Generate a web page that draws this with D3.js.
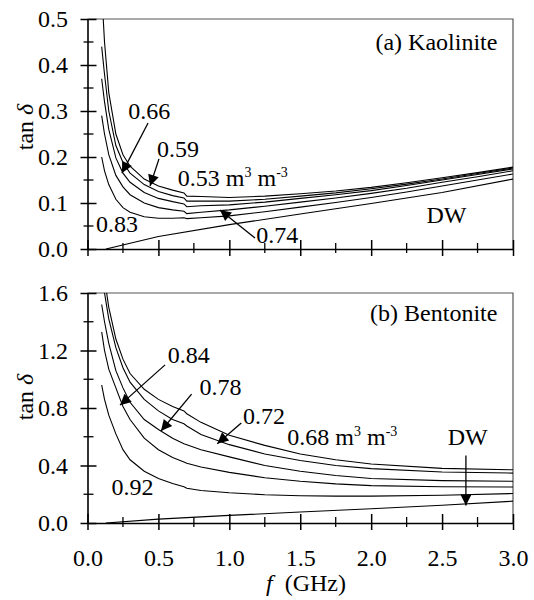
<!DOCTYPE html>
<html>
<head>
<meta charset="utf-8">
<script src="https://cdn.jsdelivr.net/npm/d3@7"></script>
<style>
  html, body { margin: 0; padding: 0; background: #fff; }
  svg { display: block; font-family: "Liberation Serif", "DejaVu Serif", serif; }
</style>
</head>
<body>
<svg id="chart" width="534" height="600"></svg>
<script>
// ---------------- DATA ----------------
const xTicks = [0.0, 0.5, 1.0, 1.5, 2.0, 2.5, 3.0];
const xTickLabels = ["0.0", "0.5", "1.0", "1.5", "2.0", "2.5", "3.0"];
const kaoTicks = [0.0, 0.1, 0.2, 0.3, 0.4, 0.5];
const kaoTickLabels = ["0.0", "0.1", "0.2", "0.3", "0.4", "0.5"];
const benTicks = [0.0, 0.4, 0.8, 1.2, 1.6];
const benTickLabels = ["0.0", "0.4", "0.8", "1.2", "1.6"];

// (a) Kaolinite — frequency (GHz) and tan delta per water content
const freqKao = [0.1, 0.12, 0.15, 0.2, 0.25, 0.3, 0.4, 0.5, 0.6, 0.68, 0.7, 0.8, 1.0, 1.25, 1.5, 1.75, 2.0, 2.25, 2.5, 2.75, 3.0];
const kao053 = [0.56, 0.45, 0.34, 0.25, 0.205, 0.18, 0.152, 0.137, 0.128, 0.122, 0.115, 0.114, 0.112, 0.115, 0.120, 0.126, 0.134, 0.144, 0.155, 0.166, 0.178];
const kao059 = [0.44, 0.38, 0.30, 0.225, 0.188, 0.165, 0.140, 0.125, 0.116, 0.111, 0.104, 0.104, 0.104, 0.108, 0.115, 0.122, 0.131, 0.141, 0.152, 0.164, 0.176];
const kao066 = [0.37, 0.32, 0.26, 0.198, 0.165, 0.145, 0.123, 0.110, 0.103, 0.098, 0.092, 0.094, 0.096, 0.102, 0.110, 0.118, 0.127, 0.138, 0.150, 0.162, 0.174];
const kao074 = [0.29, 0.25, 0.205, 0.160, 0.135, 0.118, 0.100, 0.090, 0.085, 0.082, 0.077, 0.080, 0.085, 0.093, 0.102, 0.111, 0.121, 0.132, 0.145, 0.157, 0.170];
const kao083 = [0.20, 0.17, 0.14, 0.108, 0.090, 0.080, 0.070, 0.067, 0.067, 0.068, 0.066, 0.068, 0.072, 0.081, 0.091, 0.101, 0.112, 0.124, 0.137, 0.150, 0.163];

// (b) Bentonite
const freqBen = [0.1, 0.12, 0.15, 0.2, 0.25, 0.3, 0.4, 0.5, 0.6, 0.68, 0.7, 0.8, 1.0, 1.25, 1.5, 1.75, 2.0, 2.5, 3.0];
const ben068 = [1.95, 1.70, 1.50, 1.28, 1.14, 1.04, 0.93, 0.86, 0.81, 0.78, 0.76, 0.70, 0.61, 0.54, 0.48, 0.44, 0.41, 0.38, 0.37];
const ben072 = [1.75, 1.60, 1.42, 1.22, 1.08, 0.98, 0.86, 0.78, 0.72, 0.69, 0.675, 0.615, 0.545, 0.48, 0.435, 0.40, 0.378, 0.355, 0.347];
const ben078 = [1.52, 1.40, 1.25, 1.06, 0.94, 0.84, 0.72, 0.65, 0.59, 0.552, 0.545, 0.51, 0.46, 0.40, 0.36, 0.33, 0.31, 0.295, 0.29];
const ben084 = [1.33, 1.20, 1.07, 0.94, 0.81, 0.72, 0.59, 0.51, 0.455, 0.425, 0.415, 0.39, 0.352, 0.315, 0.29, 0.272, 0.26, 0.252, 0.25];
const ben092 = [0.96, 0.86, 0.75, 0.62, 0.51, 0.44, 0.36, 0.31, 0.275, 0.252, 0.242, 0.226, 0.21, 0.197, 0.19, 0.187, 0.187, 0.193, 0.205];

// Distilled water (DW)
const freqDW = [0.13, 0.5, 1.0, 1.5, 2.0, 2.5, 3.0];
const dwTan = [0.0, 0.027, 0.053, 0.076, 0.099, 0.123, 0.152];

// Annotation texts and anchor positions (data units: GHz, tan delta)
const kaoLabels = [
  { t: "0.66", f: 0.288, v: 0.283 },
  { t: "0.59", f: 0.49, v: 0.20 },
  { t: "0.53", f: 0.637, v: 0.1375, unit: true },
  { t: "0.83", f: 0.06, v: 0.036 },
  { t: "0.74", f: 1.19, v: 0.012 },
  { t: "DW", f: 2.39, v: 0.0575 }
];
const kaoArrows = [
  { f0: 0.427, v0: 0.274, f1: 0.243, v1: 0.165 },
  { f0: 0.504, v0: 0.196, f1: 0.441, v1: 0.137 },
  { f0: 1.181, v0: 0.024, f1: 0.934, v1: 0.085 }
];
const benLabels = [
  { t: "0.84", f: 0.566, v: 1.111 },
  { t: "0.78", f: 0.79, v: 0.89 },
  { t: "0.72", f: 1.096, v: 0.687 },
  { t: "0.68", f: 1.409, v: 0.54, unit: true },
  { t: "0.92", f: 0.169, v: 0.198 },
  { t: "DW", f: 2.54, v: 0.54 }
];
const benArrows = [
  { f0: 0.547, v0: 1.10, f1: 0.229, v1: 0.82 },
  { f0: 0.734, v0: 0.897, f1: 0.518, v1: 0.64 },
  { f0: 1.084, v0: 0.696, f1: 0.915, v1: 0.552 },
  { f0: 2.668, v0: 0.47, f1: 2.668, v1: 0.121 }
];

// ---------------- DRAW ----------------
const svg = d3.select("#chart");
const left = 87.5, right = 513;
const FONT = 24;
const FAMILY = "Liberation Serif, DejaVu Serif, serif";

svg.append("defs").append("marker")
  .attr("id", "ah").attr("viewBox", "0 0 10 10")
  .attr("refX", 10).attr("refY", 5)
  .attr("markerUnits", "userSpaceOnUse")
  .attr("markerWidth", 14).attr("markerHeight", 11)
  .attr("orient", "auto")
  .append("path").attr("d", "M0,0 L10,5 L0,10 Z").attr("fill", "#000");

const x = d3.scaleLinear().domain([0, 3]).range([left, right]);

function panel(cfg) {
  const y = d3.scaleLinear().domain([0, cfg.ymax]).range([cfg.bottom, cfg.top]);
  const g = svg.append("g").attr("font-family", FAMILY);
  const clipId = "clip" + cfg.id;
  svg.select("defs").append("clipPath").attr("id", clipId)
    .append("rect").attr("x", left).attr("y", cfg.top)
    .attr("width", right - left).attr("height", cfg.bottom - cfg.top);

  // frame (top & right)
  g.append("path")
    .attr("d", `M${left},${cfg.top} H${right} V${cfg.bottom}`)
    .attr("fill", "none").attr("stroke", "#555").attr("stroke-width", 1.2);

  // curves
  const line = d3.line().x(d => x(d[0])).y(d => y(d[1]));
  const cg = g.append("g").attr("clip-path", `url(#${clipId})`);
  cfg.series.forEach(s => {
    cg.append("path")
      .datum(s.f.map((f, i) => [f, s.v[i]]))
      .attr("d", line).attr("fill", "none")
      .attr("stroke", "#000").attr("stroke-width", 1.1);
  });

  // minor ticks
  const yMinor = d3.range(0, cfg.ymax + 1e-9, cfg.ystep / 2).filter((v, i) => i % 2 === 1);
  const xMinor = d3.range(0, 3 + 1e-9, 0.25).filter((v, i) => i % 2 === 1);
  const tk = g.append("g").attr("stroke", "#000").attr("stroke-width", 1.3);
  xMinor.forEach(v => tk.append("line").attr("x1", x(v)).attr("x2", x(v))
    .attr("y1", cfg.bottom + 4).attr("y2", cfg.bottom - 6));
  yMinor.forEach(v => tk.append("line").attr("x1", left - 4).attr("x2", left + 6)
    .attr("y1", y(v)).attr("y2", y(v)));

  // x axis (major)
  const xa = g.append("g").attr("transform", `translate(0,${cfg.bottom})`)
    .call(d3.axisBottom(x).tickValues(xTicks).tickSizeInner(-9).tickSizeOuter(0)
      .tickFormat((d, i) => cfg.showX ? xTickLabels[i] : ""));
  xa.attr("font-family", FAMILY);
  xa.selectAll(".tick line").attr("y1", 7).attr("stroke-width", 1.5);
  xa.select(".domain").attr("stroke-width", 1.6);
  xa.selectAll("text").attr("font-size", FONT).attr("font-family", FAMILY)
    .attr("fill", "#000").attr("y", 43).attr("dy", 0);

  // y axis (major)
  const ya = g.append("g").attr("transform", `translate(${left},0)`)
    .call(d3.axisLeft(y).tickValues(cfg.ticks).tickSizeInner(-9).tickSizeOuter(0)
      .tickFormat((d, i) => cfg.tickLabels[i]));
  ya.attr("font-family", FAMILY);
  ya.selectAll(".tick line").attr("x1", -7).attr("stroke-width", 1.5);
  ya.select(".domain").attr("stroke-width", 1.6);
  ya.selectAll("text").attr("font-size", FONT).attr("font-family", FAMILY)
    .attr("fill", "#000").attr("x", -19.5).attr("dy", "0.33em");

  // y label
  const yl = g.append("text")
    .attr("transform", `translate(33,${cfg.ylabelY}) rotate(-90)`)
    .attr("text-anchor", "middle").attr("font-size", FONT);
  yl.append("tspan").text("tan ");
  yl.append("tspan").attr("font-style", "italic").text("δ");

  // panel title
  g.append("text").attr("x", x(2.89)).attr("y", y(cfg.titleV))
    .attr("text-anchor", "end").attr("font-size", FONT).text(cfg.title);

  // labels
  cfg.labels.forEach(l => {
    const t = g.append("text").attr("x", x(l.f)).attr("y", y(l.v)).attr("font-size", FONT);
    t.append("tspan").text(l.t);
    if (l.unit) {
      t.append("tspan").text(" m");
      t.append("tspan").attr("font-size", 14).attr("dy", -9).text("3");
      t.append("tspan").attr("dy", 9).text(" m");
      t.append("tspan").attr("font-size", 14).attr("dy", -9).text("-3");
    }
  });
  // arrows
  cfg.arrows.forEach(a => {
    g.append("line").attr("x1", x(a.f0)).attr("y1", y(a.v0))
      .attr("x2", x(a.f1)).attr("y2", y(a.v1))
      .attr("stroke", "#000").attr("stroke-width", 1.3)
      .attr("marker-end", "url(#ah)");
  });
}

panel({
  id: "a", top: 19, bottom: 249, ymax: 0.5, ystep: 0.1,
  ticks: kaoTicks, tickLabels: kaoTickLabels, showX: false, ylabelY: 127,
  title: "(a) Kaolinite", titleV: 0.432,
  series: [
    { f: freqKao, v: kao053 }, { f: freqKao, v: kao059 }, { f: freqKao, v: kao066 },
    { f: freqKao, v: kao074 }, { f: freqKao, v: kao083 }, { f: freqDW, v: dwTan }
  ],
  labels: kaoLabels, arrows: kaoArrows
});

panel({
  id: "b", top: 293, bottom: 523, ymax: 1.6, ystep: 0.4,
  ticks: benTicks, tickLabels: benTickLabels, showX: true, ylabelY: 397,
  title: "(b) Bentonite", titleV: 1.402,
  series: [
    { f: freqBen, v: ben068 }, { f: freqBen, v: ben072 }, { f: freqBen, v: ben078 },
    { f: freqBen, v: ben084 }, { f: freqBen, v: ben092 }, { f: freqDW, v: dwTan }
  ],
  labels: benLabels, arrows: benArrows
});

// x axis title
const xt = svg.append("text").attr("x", 266).attr("y", 591)
  .attr("font-size", FONT).attr("font-family", FAMILY);
xt.append("tspan").attr("font-style", "italic").text("f");
xt.append("tspan").attr("dx", 12).text("(GHz)");
</script>
</body>
</html>
